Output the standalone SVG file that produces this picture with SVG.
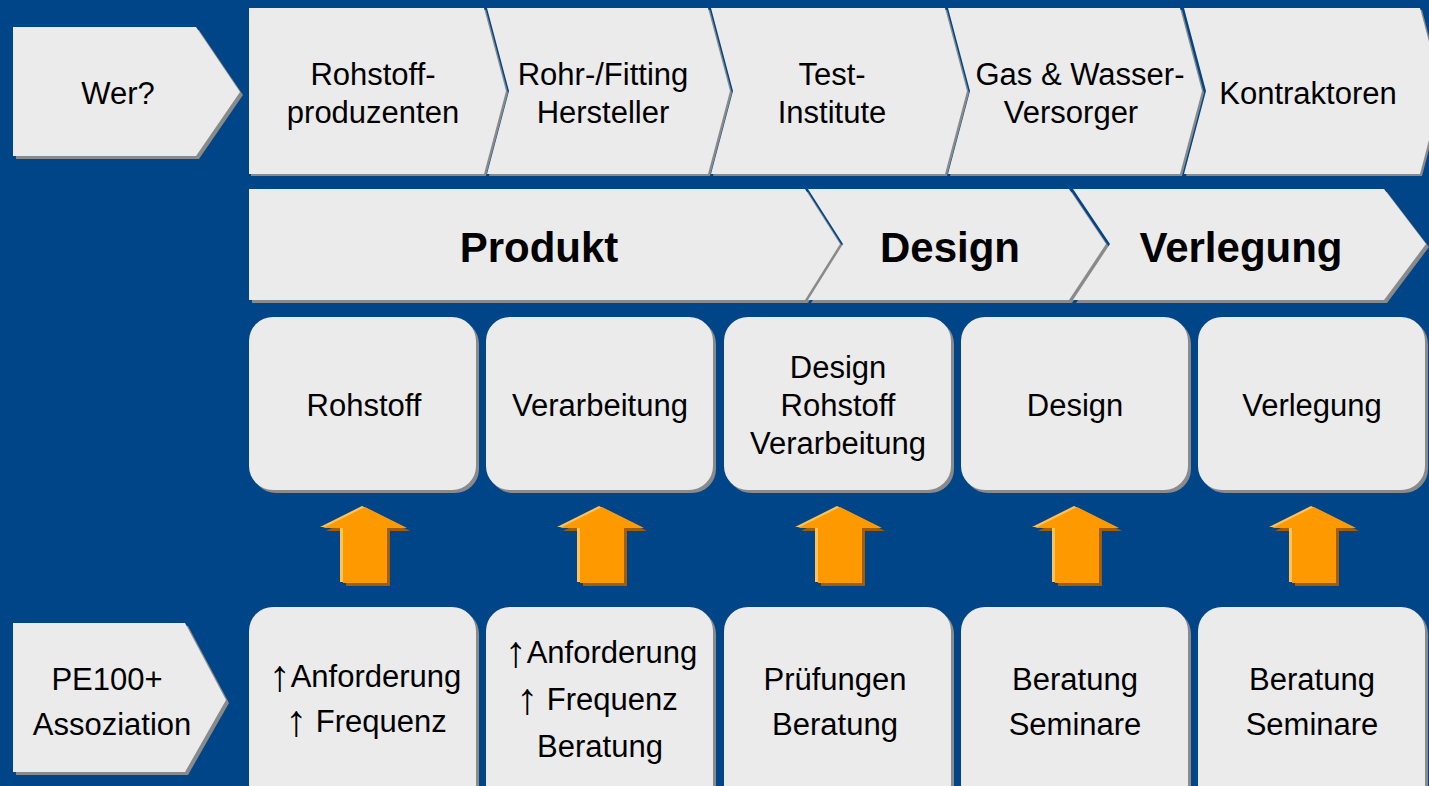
<svg xmlns="http://www.w3.org/2000/svg" xmlns:xlink="http://www.w3.org/1999/xlink" width="1429" height="786" viewBox="0 0 1429 786">
<style>
.bg{fill:#014589}
.f{fill:#ebebeb}
.sh{fill:#8a8a8a}
.t{font-family:"Liberation Sans",Arial,sans-serif;font-size:31px;fill:#000;text-anchor:middle}
.b{font-family:"Liberation Sans",Arial,sans-serif;font-size:42px;font-weight:bold;fill:#000;text-anchor:middle}
.up{font-size:44px}
.am{fill:#ff9900}
.al{fill:#ffc35e}
.ad{fill:#a45c00}
</style>
<defs>
<path id="arr" d="M0,0 L42,21 L22,21 L22,76 L-22,76 L-22,21 L-42,21 Z"/>
<rect id="rb3" width="227" height="173" rx="24" ry="24"/>
<rect id="rb4" width="227" height="210" rx="24" ry="24"/>
</defs>
<rect class="bg" x="0" y="0" width="1429" height="786"/>

<!-- Row 1 -->
<g id="wer">
<polygon class="sh" transform="translate(3,3)" points="13,27 196,27 240,92 196,156 13,156"/>
<polygon class="f" points="13,27 196,27 240,92 196,156 13,156"/>
<text class="t" x="118" y="104">Wer?</text>
</g>
<g id="rohstoffproduzenten">
<polygon class="sh" transform="translate(2,2)" points="249,8 484,8 506,91 484,174 249,174"/>
<polygon class="f" points="249,8 484,8 506,91 484,174 249,174"/>
<text class="t" x="373" y="85">Rohstoff-</text>
<text class="t" x="373" y="123">produzenten</text>
</g>
<g id="hersteller">
<polygon class="sh" transform="translate(2,2)" points="487,8 708,8 730,91 708,174 487,174 509,91"/>
<polygon class="f" points="487,8 708,8 730,91 708,174 487,174 509,91"/>
<text class="t" x="603" y="85">Rohr-/Fitting</text>
<text class="t" x="603" y="123">Hersteller</text>
</g>
<g id="testinstitute">
<polygon class="sh" transform="translate(2,2)" points="711,8 945,8 967,91 945,174 711,174 733,91"/>
<polygon class="f" points="711,8 945,8 967,91 945,174 711,174 733,91"/>
<text class="t" x="832" y="85">Test-</text>
<text class="t" x="832" y="123">Institute</text>
</g>
<g id="versorger">
<polygon class="sh" transform="translate(2,2)" points="948,8 1180,8 1202,91 1180,174 948,174 970,91"/>
<polygon class="f" points="948,8 1180,8 1202,91 1180,174 948,174 970,91"/>
<text class="t" x="1080" y="85">Gas &amp; Wasser-</text>
<text class="t" x="1071" y="123">Versorger</text>
</g>
<g id="kontraktoren">
<polygon class="sh" transform="translate(2,2)" points="1184,8 1420,8 1442,91 1420,174 1184,174 1206,91"/>
<polygon class="f" points="1184,8 1420,8 1442,91 1420,174 1184,174 1206,91"/>
<text class="t" x="1308" y="104">Kontraktoren</text>
</g>

<!-- Row 2 -->
<g id="produkt">
<polygon class="sh" transform="translate(3,3)" points="249,189 805,189 840,244 805,300 249,300"/>
<polygon class="f" points="249,189 805,189 840,244 805,300 249,300"/>
<text class="b" x="539" y="262">Produkt</text>
</g>
<g id="design-phase">
<polygon class="sh" transform="translate(3,3)" points="808,189 1069,189 1106,244 1069,300 808,300 843,244"/>
<polygon class="f" points="808,189 1069,189 1106,244 1069,300 808,300 843,244"/>
<text class="b" x="950" y="262">Design</text>
</g>
<g id="verlegung-phase">
<polygon class="sh" transform="translate(3,3)" points="1073,189 1384,189 1426,244 1384,300 1073,300 1110,244"/>
<polygon class="f" points="1073,189 1384,189 1426,244 1384,300 1073,300 1110,244"/>
<text class="b" x="1241" y="262">Verlegung</text>
</g>

<!-- Row 3 -->
<g id="rohstoff">
<use href="#rb3" class="sh" x="252" y="320"/>
<use href="#rb3" class="f" x="249" y="317"/>
<text class="t" x="364" y="416">Rohstoff</text>
</g>
<g id="verarbeitung">
<use href="#rb3" class="sh" x="489" y="320"/>
<use href="#rb3" class="f" x="486" y="317"/>
<text class="t" x="600" y="416">Verarbeitung</text>
</g>
<g id="design-rohstoff-verarbeitung">
<use href="#rb3" class="sh" x="727" y="320"/>
<use href="#rb3" class="f" x="724" y="317"/>
<text class="t" x="838" y="378">Design</text>
<text class="t" x="838" y="416">Rohstoff</text>
<text class="t" x="838" y="454">Verarbeitung</text>
</g>
<g id="design">
<use href="#rb3" class="sh" x="964" y="320"/>
<use href="#rb3" class="f" x="961" y="317"/>
<text class="t" x="1075" y="416">Design</text>
</g>
<g id="verlegung">
<use href="#rb3" class="sh" x="1201" y="320"/>
<use href="#rb3" class="f" x="1198" y="317"/>
<text class="t" x="1312" y="416">Verlegung</text>
</g>

<!-- Row 4 -->
<g id="pe100">
<polygon class="sh" transform="translate(3,3)" points="13,623 185,623 226,700 185,772 13,772"/>
<polygon class="f" points="13,623 185,623 226,700 185,772 13,772"/>
<text class="t" x="107" y="690">PE100+</text>
<text class="t" x="112" y="735">Assoziation</text>
</g>
<g id="b1">
<use href="#rb4" class="sh" x="252" y="610"/>
<use href="#rb4" class="f" x="249" y="607"/>
<text class="t" x="365" y="687"><tspan class="up" dy="4">↑</tspan><tspan dy="-4">Anforderung</tspan></text>
<text class="t" x="366" y="732"><tspan class="up" dy="4">↑</tspan><tspan dy="-4"> Frequenz</tspan></text>
</g>
<g id="b2">
<use href="#rb4" class="sh" x="489" y="610"/>
<use href="#rb4" class="f" x="486" y="607"/>
<text class="t" x="601" y="663"><tspan class="up" dy="4">↑</tspan><tspan dy="-4">Anforderung</tspan></text>
<text class="t" x="597" y="710"><tspan class="up" dy="4">↑</tspan><tspan dy="-4"> Frequenz</tspan></text>
<text class="t" x="600" y="757">Beratung</text>
</g>
<g id="b3">
<use href="#rb4" class="sh" x="727" y="610"/>
<use href="#rb4" class="f" x="724" y="607"/>
<text class="t" x="835" y="690">Prüfungen</text>
<text class="t" x="835" y="735">Beratung</text>
</g>
<g id="b4">
<use href="#rb4" class="sh" x="964" y="610"/>
<use href="#rb4" class="f" x="961" y="607"/>
<text class="t" x="1075" y="690">Beratung</text>
<text class="t" x="1075" y="735">Seminare</text>
</g>
<g id="b5">
<use href="#rb4" class="sh" x="1201" y="610"/>
<use href="#rb4" class="f" x="1198" y="607"/>
<text class="t" x="1312" y="690">Beratung</text>
<text class="t" x="1312" y="735">Seminare</text>
</g>

<!-- Connectors: orange block arrows -->
<g id="connectors">
<use href="#arr" class="ad" x="368" y="510"/>
<use href="#arr" class="al" x="362" y="506"/>
<use href="#arr" class="am" x="365" y="507"/>

<use href="#arr" class="ad" x="605" y="510"/>
<use href="#arr" class="al" x="599" y="506"/>
<use href="#arr" class="am" x="602" y="507"/>

<use href="#arr" class="ad" x="843" y="510"/>
<use href="#arr" class="al" x="837" y="506"/>
<use href="#arr" class="am" x="840" y="507"/>

<use href="#arr" class="ad" x="1080" y="510"/>
<use href="#arr" class="al" x="1074" y="506"/>
<use href="#arr" class="am" x="1077" y="507"/>

<use href="#arr" class="ad" x="1317" y="510"/>
<use href="#arr" class="al" x="1311" y="506"/>
<use href="#arr" class="am" x="1314" y="507"/>
</g>
</svg>
